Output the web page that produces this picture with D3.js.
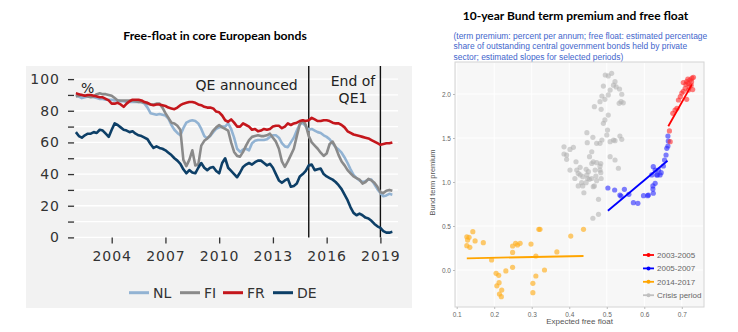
<!DOCTYPE html>
<html><head><meta charset="utf-8">
<script src="https://cdn.jsdelivr.net/npm/d3@7/dist/d3.min.js"></script>
<style>body{margin:0;background:#fff}svg{display:block}</style>
</head><body><svg id="c" width="738" height="332"></svg>
<script>
// ---------- LEFT CHART DATA (percent, sampled every 2 months from Jan 2002) ----------
const startYear = 2002, stepYears = 1 / 6;
const NL = [90,89,88,88.5,89,89,88.5,88,87.5,87.5,87,87,87,86.5,86.5,86,86,85.5,85.5,85.5,85.5,85.5,85.5,84.5,82,78.5,78,77.5,78,77.5,77,75,71,68,66,64.5,69,72.5,73.5,74,73.5,72,68.5,64,62.5,64,66.5,68.5,69.5,70,70,72,68.5,63,56,54,55.5,56,55,59.5,61,61.5,61.5,61.5,62,63.5,64.5,64.5,63,59.5,57.5,57,60,63,67.5,71.5,72.5,70,68,68.5,67.5,66.5,66,64.5,63.5,62,59.5,57,55.5,53.5,50.5,47,43,39.5,37.5,36,35,35.5,36.5,36.5,33.5,30.5,28,26,26.5,27.5,27];
const FI = [89,89.5,90,89.5,89,88.5,89,90.5,91,90.5,90.5,90,89.5,88,86.5,86.5,86.5,86.5,86.5,86.3,86,85.5,85.5,85,84.5,84,84,84.5,84.5,82,78.5,75.5,72.5,72,70.5,68,49,45,49,55,45.5,46,58,61,62.5,64.5,67.5,69.5,71,69.5,68.5,67.5,60,54,51.5,51,54,58,61.5,63.5,64,64.5,64,64,64.5,65.5,63,60.5,56,48,44.5,48,52,56,64,71.5,74,71,64,60,58,56,53.5,51.5,53,59,60.5,57,52,48,45.5,42.5,40.5,38.5,37.5,36.5,34,35,37,36,34.5,32,28.5,28,29.5,30,29.5];
const FR = [91,90.5,90,89.5,90,90,89.5,89,88.5,88.5,87.5,86.5,84.5,84.5,85,84,82.5,84.5,86,87,87,87,86.5,85.5,85,84,83.5,84,84,83.5,83,82,81.5,81,82,83.5,84.5,85,85.5,85.5,85,84,83.5,82.5,82,82,81.5,79.5,79,77,74,73,74.5,72.5,70,70,72,71,70,68,68.5,67,67.5,68.5,68,68.5,70,70.5,70.5,69,70,72,71,72,72.5,73.5,74,73.5,74,75.5,74.5,73.5,73.5,74,74,73.5,72.5,72,72,71,69.5,67,66,65,64.5,64,63.5,63,62.5,61.5,60.5,59.5,58.5,59,59.5,59.5,60];
const DE = [66.5,64,63,64.5,65.5,65.5,66.5,66,68,67.5,65.5,63.5,68,72,71,69.5,68,67.5,66.5,67,65.5,64.5,64,63,62,59,56.5,57.5,56.5,56,55,53.5,52,50,48.5,46.5,43,40.5,42.5,41,40.5,44,47,44,42.5,44,44.5,42,40.5,47,50,44,42,40,38,41,44.5,46,47,46,47.5,48.5,48.5,47,45.5,46.5,44,40,36,34.5,36,37,32,32.5,34,38.5,40,42,45.5,46,42.5,43,43.5,40,38.5,37.5,36.5,35,33,30.5,27,23.5,19,15.5,14,15,14,12.5,12,10.5,8.5,7,6,4,3,3,3.5];
const seriesNames = ["NL", "FI", "FR", "DE"];
const seriesValues = [NL, FI, FR, DE];
const seriesColors = ["#92b3d3", "#8a8a8a", "#c4161c", "#0d3f67"];
const leftYTicks = [0,10,20,30,40,50,60,70,80,90,100];
const leftXTicks = [2004, 2007, 2010, 2013, 2016, 2019];
const eventYears = [2015.0, 2019.0];

// ---------- RIGHT CHART DATA (x: expected free float, y: term premium) ----------
const red0305 = [[0.667,1.58],[0.669,1.458],[0.676,1.78],[0.682,1.818],[0.687,1.837],[0.691,1.932],[0.696,1.97],[0.700,2.01],[0.704,2.03],[0.709,2.065],[0.704,2.13],[0.713,2.14],[0.717,2.12],[0.722,2.16],[0.727,2.18],[0.731,2.19],[0.725,2.10],[0.729,2.05],[0.718,2.045],[0.713,1.94],[0.720,2.08],[0.711,2.11],[0.726,2.14],[0.716,2.17]];
const blue0507 = [[0.503,0.932],[0.521,0.909],[0.535,0.852],[0.547,0.917],[0.559,0.86],[0.571,0.765],[0.583,0.758],[0.598,0.845],[0.609,0.845],[0.624,0.872],[0.623,0.955],[0.629,0.985],[0.624,1.174],[0.633,1.08],[0.638,1.136],[0.538,0.84],[0.620,1.08],[0.629,1.136],[0.635,1.08],[0.642,1.08],[0.645,1.106],[0.651,1.182],[0.654,1.25],[0.658,1.307],[0.660,1.383],[0.663,1.409],[0.664,1.466],[0.663,1.523],[0.611,0.852],[0.623,0.92]];
const orange1417 = [[0.127,0.378],[0.133,0.371],[0.129,0.34],[0.127,0.276],[0.135,0.258],[0.143,0.435],[0.149,0.33],[0.171,0.31],[0.193,0.114],[0.205,-0.038],[0.212,-0.06],[0.207,-0.18],[0.213,-0.144],[0.220,-0.227],[0.214,-0.273],[0.219,-0.303],[0.231,-0.011],[0.249,0.273],[0.249,0.2],[0.249,0.03],[0.257,0.303],[0.262,0.284],[0.269,0.303],[0.298,0.295],[0.311,0.159],[0.319,0.462],[0.322,0.462],[0.303,-0.151],[0.303,-0.258],[0.311,-0.068],[0.334,0.0],[0.367,0.205],[0.404,0.386],[0.438,0.462]];
const greyCrisis = [[0.504,2.205],[0.513,2.235],[0.522,2.14],[0.518,2.10],[0.509,2.045],[0.491,2.09],[0.504,1.99],[0.487,1.977],[0.482,1.913],[0.495,1.94],[0.467,1.856],[0.485,1.826],[0.504,1.76],[0.495,1.705],[0.491,1.667],[0.502,1.59],[0.500,1.534],[0.509,1.458],[0.518,1.477],[0.447,1.56],[0.448,1.447],[0.463,1.508],[0.473,1.44],[0.482,1.44],[0.487,1.477],[0.386,1.40],[0.402,1.37],[0.411,1.394],[0.386,1.318],[0.393,1.307],[0.393,1.258],[0.460,1.344],[0.454,1.288],[0.464,1.23],[0.460,1.21],[0.473,1.22],[0.482,1.18],[0.509,1.288],[0.522,1.25],[0.531,1.156],[0.482,1.136],[0.469,1.136],[0.451,1.117],[0.420,1.136],[0.418,1.23],[0.402,1.136],[0.424,1.098],[0.429,1.08],[0.415,1.04],[0.436,1.06],[0.447,1.08],[0.449,1.04],[0.454,1.03],[0.460,1.04],[0.471,1.068],[0.473,1.015],[0.485,1.04],[0.433,0.992],[0.424,0.955],[0.436,0.955],[0.445,0.992],[0.464,0.947],[0.439,0.878],[0.478,0.803],[0.463,0.588],[0.478,0.633],[0.496,2.216],[0.525,2.08],[0.534,2.057],[0.540,1.997],[0.538,1.913],[0.533,1.894],[0.544,1.90],[0.535,1.523],[0.540,1.485],[0.522,1.47],[0.429,1.167],[0.445,1.144],[0.484,1.106],[0.484,1.21],[0.467,0.955]];
const fitRed = [[0.664,1.634],[0.727,2.11]];
const fitBlue = [[0.503,0.674],[0.662,1.242]];
const fitOrange = [[0.127,0.133],[0.438,0.159]];
const rightLegendLabels = ["2003-2005", "2005-2007", "2014-2017", "Crisis period"];
const rightXTicks = [0.1,0.2,0.3,0.4,0.5,0.6,0.7];
const rightYTicks = [0.0,0.5,1.0,1.5,2.0];
const subtitleLines = ["(term premium: percent per annum; free float: estimated percentage","share of outstanding central government bonds held by private","sector; estimated slopes for selected periods)"];

const svg = d3.select("#c");

// ================= LEFT CHART =================
const L = svg.append("g");
L.append("text").attr("x", 215).attr("y", 40).attr("text-anchor", "middle")
  .style("font-family", "Lato, 'Open Sans', sans-serif").style("font-weight", "bold")
  .style("font-size", "12.2px").attr("fill", "#000").text("Free-float in core European bonds");

L.append("rect").attr("x", 26).attr("y", 66).attr("width", 386).attr("height", 242).attr("fill", "#f2f2f2");

const x = d3.scaleLinear().domain([2004, 2019]).range([111.7, 380.4]);
const y = d3.scaleLinear().domain([0, 100]).range([237.4, 79.1]);

L.append("g").selectAll("line").data(leftYTicks).join("line")
  .attr("x1", 75).attr("x2", 398).attr("y1", d => y(d)).attr("y2", d => y(d))
  .attr("stroke", "#ffffff").attr("stroke-width", 1.3);

const fontL = "'DejaVu Sans', Verdana, sans-serif";
const yAx = L.append("g").attr("transform", "translate(74,0)")
  .call(d3.axisLeft(y).tickValues(leftYTicks).tickSize(6).tickPadding(8)
    .tickFormat(d => d % 20 === 0 ? d : ""));
yAx.select(".domain").remove();
yAx.selectAll("line").attr("stroke", "#333").attr("stroke-width", 1.3);
yAx.selectAll("text").style("font-family", fontL).style("font-size", "14px")
  .style("letter-spacing", "1px").attr("fill", "#333");

const xAx = L.append("g").attr("transform", "translate(0,237.4)")
  .call(d3.axisBottom(x).tickValues(leftXTicks).tickSize(6).tickPadding(8).tickFormat(d3.format("d")));
xAx.select(".domain").remove();
xAx.selectAll("line").attr("stroke", "#333").attr("stroke-width", 1.3);
xAx.selectAll("text").style("font-family", fontL).style("font-size", "14px")
  .style("letter-spacing", "1px").attr("fill", "#333");

L.append("g").selectAll("line").data(eventYears).join("line")
  .attr("x1", d => x(d)).attr("x2", d => x(d)).attr("y1", 66).attr("y2", y(0))
  .attr("stroke", "#111").attr("stroke-width", 1.4);

const line = d3.line().x((d, i) => x(startYear + i * stepYears)).y(d => y(d));
L.append("g").selectAll("path").data(seriesValues).join("path")
  .attr("d", d => line(d)).attr("fill", "none")
  .attr("stroke", (d, i) => seriesColors[i]).attr("stroke-width", 2.6)
  .attr("stroke-linejoin", "round");

L.append("text").attr("x", 81).attr("y", 93).style("font-family", fontL).style("font-size", "14px").attr("fill", "#222").text("%");
L.append("text").attr("x", x(eventYears[0]) - 11).attr("y", 90).attr("text-anchor", "end")
  .style("font-family", fontL).style("font-size", "14px").attr("fill", "#222").text("QE announced");
L.append("text").attr("x", 353).attr("y", 86).attr("text-anchor", "middle")
  .style("font-family", fontL).style("font-size", "14px").attr("fill", "#222").text("End of");
L.append("text").attr("x", 353).attr("y", 102.5).attr("text-anchor", "middle")
  .style("font-family", fontL).style("font-size", "14px").attr("fill", "#222").text("QE1");

const legXs = [129, 180, 223, 273];
const lg = L.append("g").selectAll("g").data(seriesNames).join("g")
  .attr("transform", (d, i) => `translate(${legXs[i]},292.7)`);
lg.append("line").attr("x1", 0).attr("x2", 20).attr("stroke", (d, i) => seriesColors[i]).attr("stroke-width", 3);
lg.append("text").attr("x", 24).attr("dy", "0.36em").style("font-family", fontL).style("font-size", "14px")
  .attr("fill", "#333").text(d => d);

// ================= RIGHT CHART =================
const R = svg.append("g");
R.append("text").attr("x", 575.5).attr("y", 20).attr("text-anchor", "middle")
  .style("font-family", "Lato, 'Open Sans', sans-serif").style("font-weight", "bold")
  .style("font-size", "12px").attr("fill", "#000").text("10-year Bund term premium and free float");
R.append("g").selectAll("text").data(subtitleLines).join("text")
  .attr("x", 453.5).attr("y", (d, i) => 39 + i * 10.3)
  .style("font-family", "'Liberation Sans', Arial, sans-serif").style("font-size", "8.45px")
  .attr("fill", "#3f66cc").text(d => d);

const px0 = 455, px1 = 704, py0 = 62, py1 = 307;
R.append("rect").attr("x", px0).attr("y", py0).attr("width", px1 - px0).attr("height", py1 - py0)
  .attr("fill", "#f7f7f7").attr("stroke", "#d4d4d4").attr("stroke-width", 1);

const sx = d3.scaleLinear().domain([0.1, 0.7]).range([456.7, 681.8]);
const sy = d3.scaleLinear().domain([0, 2]).range([270, 94]);

R.append("g").selectAll("line").data(rightXTicks).join("line")
  .attr("x1", d => sx(d)).attr("x2", d => sx(d)).attr("y1", py0 + 1).attr("y2", py1 - 1)
  .attr("stroke", "#ffffff").attr("stroke-width", 1);
R.append("g").selectAll("line").data(rightYTicks).join("line")
  .attr("y1", d => sy(d)).attr("y2", d => sy(d)).attr("x1", px0 + 1).attr("x2", px1 - 1)
  .attr("stroke", "#ffffff").attr("stroke-width", 1);

const fontR = "'Liberation Sans', Arial, sans-serif";
const rx = R.append("g").attr("transform", `translate(0,${py1})`)
  .call(d3.axisBottom(sx).tickValues(rightXTicks).tickSize(2).tickPadding(3).tickFormat(d3.format(".1f")));
rx.select(".domain").remove();
rx.selectAll("line").attr("stroke", "#bbb");
rx.selectAll("text").style("font-family", fontR).style("font-size", "6.5px").attr("fill", "#666");
const ry = R.append("g").attr("transform", `translate(${px0},0)`)
  .call(d3.axisLeft(sy).tickValues(rightYTicks).tickSize(2).tickPadding(2).tickFormat(d3.format(".1f")));
ry.select(".domain").remove();
ry.selectAll("line").attr("stroke", "#bbb");
ry.selectAll("text").style("font-family", fontR).style("font-size", "6.5px").attr("fill", "#666");

R.append("text").attr("x", (px0 + px1) / 2).attr("y", 324).attr("text-anchor", "middle")
  .style("font-family", fontR).style("font-size", "8px").attr("fill", "#555").text("Expected free float");
R.append("text").attr("transform", `translate(435,${(py0 + py1) / 2 - 2}) rotate(-90)`).attr("text-anchor", "middle")
  .style("font-family", fontR).style("font-size", "7.5px").attr("fill", "#555").text("Bund term premium");

const groups = [
  { pts: greyCrisis, fill: "rgba(175,175,175,0.55)", fit: null, line: "#c0c0c0" },
  { pts: orange1417, fill: "rgba(255,175,30,0.65)", fit: fitOrange, line: "#ffa500" },
  { pts: blue0507, fill: "rgba(40,40,255,0.6)", fit: fitBlue, line: "#0000ff" },
  { pts: red0305, fill: "rgba(255,40,40,0.6)", fit: fitRed, line: "#ff0000" }
];
groups.forEach(g => {
  R.append("g").selectAll("circle").data(g.pts).join("circle")
    .attr("cx", d => sx(d[0])).attr("cy", d => sy(d[1])).attr("r", 2.6).attr("fill", g.fill);
});
const fitLine = d3.line().x(d => sx(d[0])).y(d => sy(d[1]));
groups.forEach(g => {
  if (g.fit) R.append("path").attr("d", fitLine(g.fit)).attr("stroke", g.line).attr("stroke-width", 1.8).attr("fill", "none");
});

const legColors = ["#ff0000", "#0000ff", "#ffa500", "#c0c0c0"];
const rl = R.append("g").selectAll("g").data(rightLegendLabels).join("g")
  .attr("transform", (d, i) => `translate(643,${255 + i * 13.4})`);
rl.append("line").attr("x1", 0).attr("x2", 11).attr("stroke", (d, i) => legColors[i]).attr("stroke-width", 1.8);
rl.append("circle").attr("cx", 5.5).attr("r", 2).attr("fill", (d, i) => legColors[i]);
rl.append("text").attr("x", 14).attr("dy", "0.35em").style("font-family", fontR).style("font-size", "8px")
  .attr("fill", "#666").text(d => d);
</script></body></html>
